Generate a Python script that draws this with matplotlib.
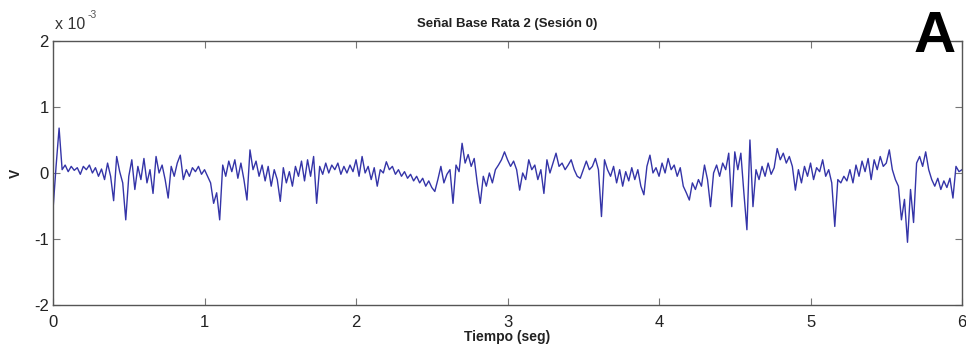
import numpy as np
import matplotlib
matplotlib.use('Agg')
import matplotlib.pyplot as plt

plt.rcParams['font.family'] = ['Liberation Sans', 'DejaVu Sans']
plt.rcParams['axes.unicode_minus'] = False

#==============================================================================
# data  (signal in units of 1e-3 V, one sample every 0.02 s)
#==============================================================================

signal_mv = [
    # 0.00 - 0.48
    -0.55, 0.10, 0.68, 0.05, 0.12, 0.02, 0.10, 0.04, 0.08, -0.02, 0.10, 0.05, 0.12,
    0.00, 0.08, -0.05, 0.06, -0.10, 0.15, -0.05, -0.42, 0.25, 0.02, -0.15, -0.71,
    # 0.50 - 0.98
    -0.05, 0.20, -0.25, 0.10, -0.10, 0.22, -0.15, 0.05, -0.31, 0.25, 0.00, 0.12, -0.10,
    -0.38, 0.10, -0.05, 0.15, 0.27, -0.10, 0.05, -0.05, 0.08, 0.02, 0.10, -0.02,
    # 1.00 - 1.48
    0.05, -0.05, -0.15, -0.46, -0.30, -0.71, 0.12, -0.05, 0.18, 0.02, 0.20, -0.08, 0.15,
    -0.10, -0.41, 0.35, 0.05, 0.18, -0.05, 0.12, -0.12, 0.10, -0.20, 0.05, -0.10,
    # 1.50 - 1.98
    -0.43, 0.08, -0.15, 0.02, -0.20, 0.10, -0.05, 0.18, -0.12, 0.20, -0.05, 0.25, -0.46,
    0.10, -0.02, 0.15, 0.00, 0.12, 0.05, 0.15, -0.02, 0.10, 0.00, 0.12, 0.02,
    # 2.00 - 2.48
    0.20, -0.05, 0.25, 0.00, 0.10, -0.10, 0.08, -0.20, 0.05, 0.00, 0.17, 0.05, 0.10,
    -0.02, 0.05, -0.05, 0.02, -0.08, -0.02, -0.12, -0.05, -0.15, -0.08, -0.20, -0.12,
    # 2.50 - 2.98
    -0.22, -0.28, -0.10, 0.10, -0.15, -0.02, 0.05, -0.46, 0.12, 0.02, 0.45, 0.15, 0.28,
    0.10, 0.22, -0.15, -0.46, -0.05, -0.20, 0.00, -0.15, 0.05, 0.12, 0.20, 0.32,
    # 3.00 - 3.48
    0.20, 0.10, 0.18, 0.05, -0.26, 0.00, -0.10, 0.20, 0.05, 0.12, -0.10, 0.05, -0.31,
    0.20, 0.00, 0.15, 0.30, 0.10, 0.15, 0.05, 0.12, 0.20, 0.05, -0.05, -0.08,
    # 3.50 - 3.98
    0.05, 0.18, 0.05, 0.10, 0.22, 0.05, -0.66, 0.20, 0.05, -0.05, 0.10, -0.15, 0.05,
    -0.20, 0.02, -0.12, 0.08, -0.10, 0.05, -0.20, -0.33, 0.10, 0.27, 0.00, 0.08,
    # 4.00 - 4.48
    -0.05, 0.15, 0.00, 0.22, 0.05, 0.12, -0.05, 0.08, -0.20, -0.30, -0.41, -0.15, -0.25,
    -0.10, -0.20, 0.12, -0.10, -0.51, 0.00, 0.12, -0.05, 0.15, 0.05, 0.30, -0.51,
    # 4.50 - 4.98
    0.32, 0.05, 0.30, -0.30, -0.86, 0.50, -0.51, 0.05, -0.10, 0.10, -0.05, 0.15, -0.02,
    0.08, 0.37, 0.20, 0.30, 0.15, 0.25, 0.10, -0.26, 0.05, -0.15, 0.10, -0.05,
    # 5.00 - 5.48
    0.15, -0.10, 0.08, 0.02, 0.20, -0.05, 0.05, -0.15, -0.81, -0.10, -0.15, -0.05, -0.12,
    0.05, -0.15, 0.12, -0.05, 0.18, 0.02, 0.22, -0.10, 0.20, 0.05, 0.25, 0.10,
    # 5.50 - 6.00
    0.15, 0.35, 0.05, -0.10, -0.20, -0.71, -0.40, -1.05, -0.25, -0.75, 0.15, 0.25, 0.10,
    0.32, 0.05, -0.10, -0.20, -0.08, -0.25, -0.12, -0.22, -0.08, -0.38, 0.10, 0.02, 0.05,
]

t_start, t_end = 0.0, 6.0
x_ticks = [0, 1, 2, 3, 4, 5, 6]
y_ticks = [-2, -1, 0, 1, 2]

title_txt = u'Se\u00f1al Base Rata 2 (Sesi\u00f3n 0)'
xlabel_txt = 'Tiempo (seg)'
ylabel_txt = 'V'

#==============================================================================
# plot
#==============================================================================

signal = np.array(signal_mv) * 1e-3
t = np.linspace(t_start, t_end, len(signal))

fig = plt.figure(figsize=(9.66, 3.56), dpi=100)
ax = fig.add_axes([0.0549, 0.1433, 0.941, 0.7416])

ax.plot(t, signal, color='#3434a8', lw=1.0)

ax.set_xlim(t_start, t_end)
ax.set_ylim(-2e-3, 2e-3)
ax.set_xticks(x_ticks)
ax.set_xticklabels([str(v) for v in x_ticks])
ax.set_yticks([v * 1e-3 for v in y_ticks])
ax.set_yticklabels([str(v) for v in y_ticks])

for sp in ax.spines.values():
    sp.set_color('#555555')
    sp.set_linewidth(1.0)
ax.tick_params(direction='in', length=5, width=0.8, color='#777777',
               top=True, right=True, labelsize=12, labelcolor='#222222')
ax.tick_params(axis='x', pad=7)
ax.tick_params(axis='y', pad=3)

ax.set_title(title_txt, fontsize=9.5, fontweight='bold', color='#222222', pad=10)
ax.set_xlabel(xlabel_txt, fontsize=10, fontweight='bold', color='#222222', labelpad=0)
ax.set_ylabel(ylabel_txt, fontsize=10, fontweight='bold', color='#222222', labelpad=8)

# exponent label, matlab style
fig.text(0.057, 0.918, 'x 10', fontsize=11.5, color='#333333',
         ha='left', va='baseline')
fig.text(0.0905, 0.949, '-3', fontsize=7.5, color='#555555',
         ha='left', va='baseline')

# panel letter
fig.text(0.968, 0.854, 'A', fontsize=42, fontweight='bold', color='k',
         ha='center', va='baseline')

fig.savefig('out.png', dpi=100)
